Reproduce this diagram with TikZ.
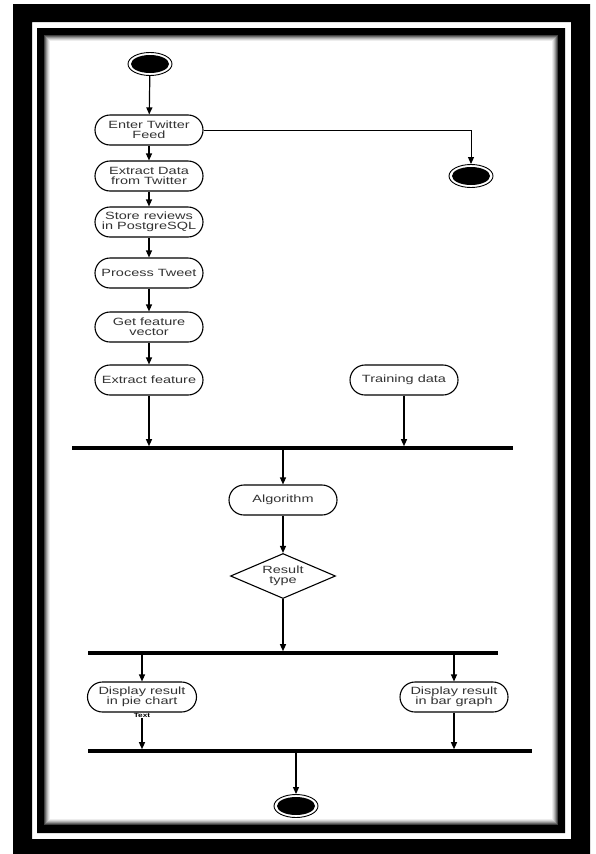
\documentclass[tikz,border=0pt]{standalone}
\usepackage{fontspec}
\setmainfont{Liberation Sans}[FakeStretch=1.38]
\usetikzlibrary{arrows.meta,shapes.geometric}
\begin{document}
\begin{tikzpicture}[x=1pt,y=-1pt,
  act/.style={draw, line width=1.1pt, rectangle, rounded corners=15pt,
    minimum width=108pt, minimum height=30pt, inner sep=0pt, align=center,
    text=black!80, font=\fontsize{10.5}{10}\selectfont},
  dec/.style={draw, line width=1.1pt, diamond, aspect=2.33, minimum width=105pt,
    minimum height=45pt, inner sep=0pt, align=center,
    text=black!80, font=\fontsize{10.5}{10}\selectfont},
  term/.style={draw, line width=0.9pt, ellipse, minimum width=44pt,
    minimum height=23pt, inner sep=0pt,
    path picture={\fill (path picture bounding box.center) ellipse (19pt and 9pt);}},
  bar/.style={fill, inner sep=0pt, minimum height=3.2pt},
  arr/.style={line width=1.2pt, -{Triangle[length=7pt,width=6pt]}},
  tiny/.style={inner sep=1pt, font=\bfseries\fontsize{6}{6}\selectfont}
]
\useasboundingbox (0,0) rectangle (595,854);
\fill[white] (0,0) rectangle (595,854);
% frames
\fill[black, even odd rule] (13,4) rectangle (590,854) (32,22) rectangle (571,839);
\fill[black, even odd rule] (37,28) rectangle (565,833) (44,35) rectangle (558,825);
\foreach \i/\c in {1/75,2/58,3/42,4/28,5/16,6/7}{
  \draw[black!\c, line width=1pt] (44+\i-0.5,35+\i-0.5) rectangle (558-\i+0.5,825-\i+0.5);
}
% nodes
\node[term] (start) at (150,64) {};
\node[act] (enter) at (149,130) {Enter Twitter\\Feed};
\node[term] (stop1) at (471,176) {};
\node[act] (extract) at (149,176) {Extract Data\\from Twitter};
\node[act] (store) at (149,222) {Store reviews\\in PostgreSQL};
\node[act] (process) at (149,273) {Process Tweet};
\node[act] (getfv) at (149,327) {Get feature\\vector};
\node[act] (exfeat) at (149,380) {Extract feature};
\node[act] (train) at (404,380) {Training data};
\node[bar, minimum width=441pt] (bar1) at (292.5,448) {};
\node[act] (algo) at (283,500) {Algorithm};
\node[dec] (rtype) at (283,576) {Result\\type};
\node[bar, minimum width=410pt] (bar2) at (293,653) {};
\node[act, minimum width=109pt] (pie) at (142,697) {Display result\\in pie chart};
\node[tiny] (txt) at (142,715) {Text};
\node[act] (bgraph) at (454,697) {Display result\\in bar graph};
\node[bar, minimum width=444pt] (bar3) at (310,751) {};
\node[term] (stop2) at (296,806) {};
% connectors
\draw[arr] (start) -- (enter);
\draw[line width=1pt, -{Triangle[length=7pt,width=6pt]}] (enter.east) -| (stop1.north);
\draw[arr] (enter) -- (extract);
\draw[arr] (extract) -- (store);
\draw[arr] (store) -- (process);
\draw[arr] (process) -- (getfv);
\draw[arr] (getfv) -- (exfeat);
\draw[arr] (exfeat) -- (exfeat |- bar1.north);
\draw[arr] (train) -- (train |- bar1.north);
\draw[arr] (bar1.south -| algo) -- (algo);
\draw[arr] (algo) -- (rtype);
\draw[arr] (rtype) -- (rtype |- bar2.north);
\draw[arr] (bar2.south -| pie) -- (pie);
\draw[arr] (bar2.south -| bgraph) -- (bgraph);
\draw[arr] (txt) -- (txt |- bar3.north);
\draw[arr] (bgraph) -- (bgraph |- bar3.north);
\draw[arr] (bar3.south -| stop2) -- (stop2);
\end{tikzpicture}
\end{document}
